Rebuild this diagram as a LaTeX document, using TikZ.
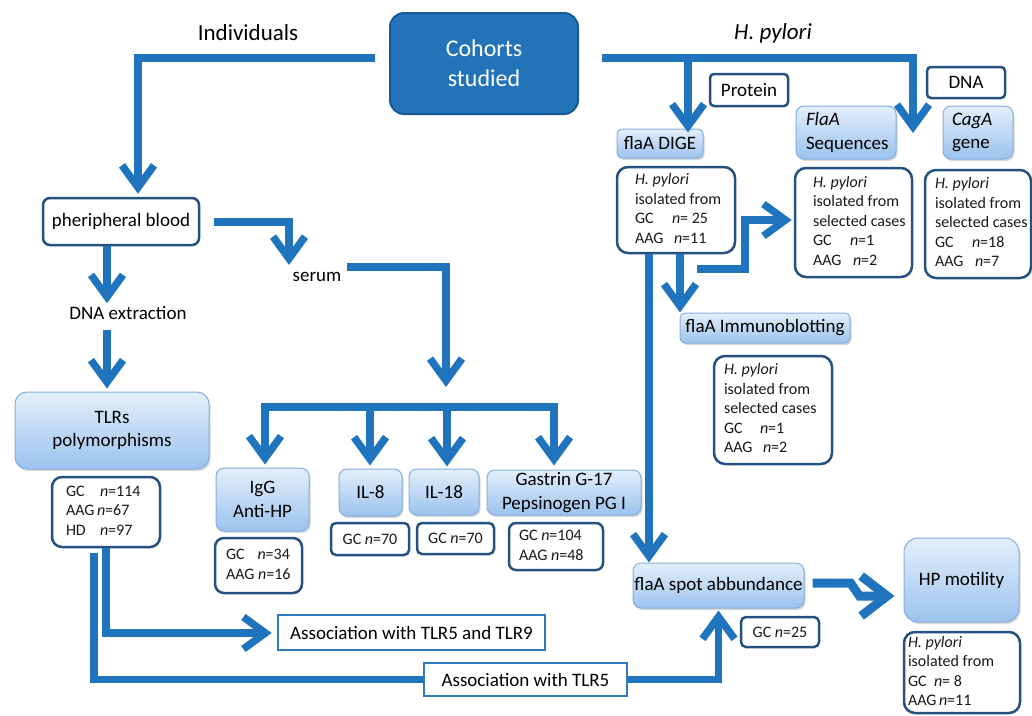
\documentclass[tikz,border=0pt]{standalone}
\usepackage{fontspec}
\setmainfont{Carlito}
\usetikzlibrary{arrows.meta,shadows,calc}
\definecolor{ablue}{HTML}{1F74BD}
\definecolor{dkfill}{HTML}{2373B8}
\definecolor{dkborder}{HTML}{1A5A93}
\definecolor{navy}{HTML}{25517F}
\definecolor{lbtop}{HTML}{E3EFFB}
\definecolor{lbbot}{HTML}{9BC2EE}
\definecolor{lbborder}{HTML}{86AEDC}
\definecolor{aborder}{HTML}{2F79BD}
\newcommand\fsz[2]{\fontsize{#1}{#2}\selectfont}
\newcommand\padto[2]{\makebox[#1][l]{#2}}
\newcommand\ibody[2]{\makebox[#1][l]{\begin{tabular}{@{}l@{}}#2\end{tabular}}}
\begin{document}
\begin{tikzpicture}[x=1pt,y=-1pt,
  conn/.style={draw=ablue,line width=7.5pt},
  arr/.style={conn,-{Straight Barb[length=22pt,width=32pt]}},
  darkbox/.style={rounded corners=14pt,fill=dkfill,draw=dkborder,line width=2pt,text=white,align=center,inner sep=0pt,font=\fsz{24}{30}},
  lightbox/.style={rounded corners=8pt,draw=lbborder,line width=1pt,top color=lbtop,bottom color=lbbot,drop shadow={opacity=0.3,shadow xshift=1.5pt,shadow yshift=-2pt},align=center,inner sep=0pt,font=\fsz{19}{23.5}},
  infobox/.style={rounded corners=11pt,draw=navy,line width=2.5pt,fill=white,inner sep=0pt,font=\fsz{16}{19.5},text=black!90},
  tagbox/.style={rounded corners=4pt,draw=navy,line width=2.5pt,fill=white,inner sep=0pt,font=\fsz{19}{23}},
  assocbox/.style={draw=aborder,line width=2.5pt,fill=white,inner sep=0pt,font=\fsz{19}{23}},
  lab/.style={inner sep=0pt,font=\fsz{19}{23}},
  toplab/.style={inner sep=0pt,font=\fsz{23}{27}},
]
\useasboundingbox (0,0) rectangle (1032,715);
\path[fill=white] (0,0) rectangle (1032,715);

% ---- top ----
\node[darkbox,minimum width=188pt,minimum height=101pt] (cohorts) at (484,63.5) {Cohorts\\studied};
\node[toplab] (indiv) at (248,33) {Individuals};
\node[toplab,font=\fsz{23}{27}\itshape] (hp) at (773,33) {H. pylori};
\node[tagbox,minimum width=78pt,minimum height=32pt] (protein) at (749,90) {Protein};
\node[tagbox,minimum width=78pt,minimum height=31pt] (dna) at (966,82.5) {DNA};
\node[lightbox,minimum width=86pt,minimum height=29pt,rounded corners=5pt] (dige) at (660,143.5) {flaA DIGE};
\node[lightbox,minimum width=100pt,minimum height=53pt,align=left,text width=80pt] (seq) at (846,132.5) {\textit{FlaA}\\Sequences};
\node[lightbox,minimum width=70pt,minimum height=53pt,align=left,text width=52pt] (caga) at (978,132.5) {\textit{CagA}\\gene};

\node[infobox,minimum width=118pt,minimum height=86pt] (digeinfo) at (676,210)
  {\ibody{82pt}{\textit{H. pylori}\\isolated from\\\padto{37pt}{GC}\textit{n}= 25\\\padto{39pt}{AAG}\textit{n}=11}};
\node[infobox,minimum width=117pt,minimum height=109pt] (seqinfo) at (853.5,222.5)
  {\ibody{81pt}{\textit{H. pylori}\\isolated from\\selected cases\\\padto{37pt}{GC}\textit{n}=1\\\padto{40pt}{AAG}\textit{n}=2}};
\node[infobox,minimum width=106pt,minimum height=108pt] (cagainfo) at (978,224)
  {\ibody{86pt}{\textit{H. pylori}\\isolated from\\selected cases\\\padto{37pt}{GC}\textit{n}=18\\\padto{40pt}{AAG}\textit{n}=7}};
\node[lightbox,minimum width=170pt,minimum height=30pt,rounded corners=5pt] (immuno) at (765,328) {flaA Immunoblotting};
\node[infobox,minimum width=118pt,minimum height=108pt] (immunoinfo) at (773,410)
  {\ibody{98pt}{\textit{H. pylori}\\isolated from\\selected cases\\\padto{36pt}{GC}\textit{n}=1\\\padto{39pt}{AAG}\textit{n}=2}};

% ---- left ----
\node[tagbox,minimum width=156pt,minimum height=47pt,rounded corners=7pt] (blood) at (121,221.5) {pheripheral blood};
\node[lab] (dnaext) at (128,313) {DNA extraction};
\node[lightbox,minimum width=194pt,minimum height=77pt,rounded corners=12pt] (tlrs) at (112,430.5) {TLRs\\polymorphisms};
\node[infobox,minimum width=108pt,minimum height=70pt,rounded corners=10pt] (tlrinfo) at (106,512)
  {\ibody{80pt}{\padto{34pt}{GC}\textit{n}=114\\\padto{31pt}{AAG}\textit{n}=67\\\padto{34pt}{HD}\textit{n}=97}};
\node[lab] (serum) at (317,277) {serum};
\node[lightbox,minimum width=93pt,minimum height=63pt] (igg) at (262.5,499.5) {IgG\\Anti-HP};
\node[infobox,minimum width=87pt,minimum height=55pt,rounded corners=9pt] (igginfo) at (258.5,565.5)
  {\ibody{65pt}{GC\phantom{A} \textit{n}=34\\AAG \textit{n}=16}};
\node[lightbox,minimum width=63pt,minimum height=47pt] (il8) at (370.5,492.5) {IL-8};
\node[infobox,minimum width=78pt,minimum height=32pt,rounded corners=5pt] (il8info) at (370,539) {GC \textit{n}=70};
\node[lightbox,minimum width=70pt,minimum height=46pt] (il18) at (444,492) {IL-18};
\node[infobox,minimum width=77pt,minimum height=31pt,rounded corners=5pt] (il18info) at (455.5,538.5) {GC \textit{n}=70};
\node[lightbox,minimum width=154pt,minimum height=45pt] (gastrin) at (564,492.5) {Gastrin G-17\\Pepsinogen PG I};
\node[infobox,minimum width=94pt,minimum height=47pt,rounded corners=7pt] (gastrininfo) at (556,546.5)
  {\ibody{74pt}{GC \textit{n}=104\\AAG \textit{n}=48}};
\node[lightbox,minimum width=171pt,minimum height=45pt] (spot) at (718.5,585.5) {flaA spot abbundance};
\node[infobox,minimum width=78pt,minimum height=30pt,rounded corners=5pt] (spotinfo) at (780,632) {GC \textit{n}=25};
\node[lightbox,minimum width=115pt,minimum height=84pt,rounded corners=14pt] (hpmot) at (961.5,580) {HP motility};
\node[infobox,minimum width=116pt,minimum height=81pt] (hpmotinfo) at (962,672.5)
  {\ibody{108pt}{\textit{H. pylori}\\isolated from\\\padto{26pt}{GC}\textit{n}= 8\\\padto{31pt}{AAG}\textit{n}=11}};
\node[assocbox,minimum width=267pt,minimum height=35pt] (assoc1) at (411.5,632.5) {Association with TLR5 and TLR9};
\node[assocbox,minimum width=203pt,minimum height=33pt] (assoc2) at (525.5,679.5) {Association with TLR5};

% ---- connectors ----
\coordinate (iL) at (375,58);
\draw[arr] (iL) -| ($(blood.north)+(17,-3)$);
\coordinate (hL) at (602,58);
\coordinate (dnaT) at (913,133);
\draw[arr] (hL) -| (dnaT);
\coordinate (hB) at (688,58);
\draw[arr] (hB) -- ($(dige.north)+(28,4)$);

\draw[arr] ($(blood.south)+(-14,0)$) -- ++(0,57);
\coordinate (dx) at (107,330);
\draw[arr] (dx) -- ($(tlrs.north)+(-5,-3)$);
\coordinate (sT) at (289,265);
\draw[arr] ($(blood.east)+(14,0.5)$) -| (sT);
\coordinate (s2) at (347,267);
\coordinate (busT) at (446,387);
\draw[arr] (s2) -| (busT);
\draw[conn] (261.25,407) -- (557.75,407);
\draw[arr] (265,403.25) -- ($(igg.north)+(2.5,-3)$);
\draw[arr] (370,403.25) -- ($(il8.north)+(-0.5,-3)$);
\draw[arr] (447,403.25) -- ($(il18.north)+(3,-2)$);
\draw[arr] (554,403.25) -- ($(gastrin.north)+(-10,-4)$);

\coordinate (d1) at ($(digeinfo.south)+(-27,0)$);
\draw[arr] (d1) -- (d1 |- spot.north);
\coordinate (d2) at ($(digeinfo.south)+(4,0)$);
\draw[arr] (d2) -- (d2 |- immuno.north);
\coordinate (d3) at (697,269);
\draw[arr] (d3) -- (745,269) |- ($(seqinfo.west)+(-2,-2.5)$);

\draw[conn,line width=9pt,-{Straight Barb[length=26pt,width=40pt]}] ($(spot.east)+(8,-2.5)$) -- ++(38,0) -- ++(9,13) -- ($(hpmot.west)+(-9,16)$);

\draw[arr] (tlrinfo.south) |- ($(assoc1.west)+(-5,0.5)$);
\coordinate (t2) at ($(tlrinfo.south)+(-12,5)$);
\draw[conn] (t2) |- (assoc2.west);
\draw[arr] (assoc2.east) -| ($(spot.south)+(0,2)$);
\end{tikzpicture}
\end{document}
